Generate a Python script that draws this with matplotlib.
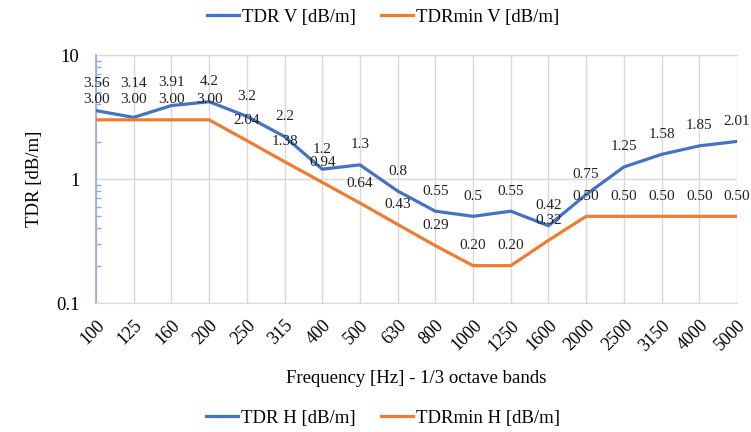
import matplotlib
matplotlib.use("Agg")
import matplotlib.pyplot as plt
from matplotlib.lines import Line2D
from matplotlib.ticker import LogLocator, FixedLocator, NullFormatter
import numpy as np

# ── data ──────────────────────────────────────────────────────────────────────
FREQS = ["100", "125", "160", "200", "250", "315", "400", "500", "630", "800",
         "1000", "1250", "1600", "2000", "2500", "3150", "4000", "5000"]
TDR_V = [3.56, 3.14, 3.91, 4.2, 3.2, 2.2, 1.2, 1.3, 0.8, 0.55,
         0.5, 0.55, 0.42, 0.75, 1.25, 1.58, 1.85, 2.01]
TDRMIN_V = [3.00, 3.00, 3.00, 3.00, 2.04, 1.38, 0.94, 0.64, 0.43, 0.29,
            0.20, 0.20, 0.32, 0.50, 0.50, 0.50, 0.50, 0.50]
TDR_V_TEXT = ["3.56", "3.14", "3.91", "4.2", "3.2", "2.2", "1.2", "1.3", "0.8", "0.55",
              "0.5", "0.55", "0.42", "0.75", "1.25", "1.58", "1.85", "2.01"]
TDRMIN_V_TEXT = [f"{v:.2f}" for v in TDRMIN_V]

BLUE = "#4472C4"
ORANGE = "#ED7D31"
GRID = "#D9D9D9"
AXIS_BLUE = "#8FAADC"

plt.rcParams["font.family"] = ["Liberation Serif", "DejaVu Serif"]
plt.rcParams["font.size"] = 13

fig = plt.figure(figsize=(7.51, 4.32), dpi=100)
ax = fig.add_axes([96 / 751, 1 - 303 / 432, (737 - 96) / 751, (303 - 55) / 432])

x = np.arange(len(FREQS))
ax.plot(x, TDR_V, color=BLUE, lw=2.3, solid_joinstyle="round", zorder=3)
ax.plot(x, TDRMIN_V, color=ORANGE, lw=2.3, solid_joinstyle="round", zorder=3)

ax.set_yscale("log")
ax.set_ylim(0.1, 10)
ax.set_xlim(0, len(FREQS) - 1)

# ── data labels (about 20 px above each point; first blue ones lifted in the original)
px = 72 / fig.dpi
extra_lift_v = {0: 7, 1: 14, 2: 3}
for i, (v, t) in enumerate(zip(TDR_V, TDR_V_TEXT)):
    ax.annotate(t, (x[i], v), xytext=(0, (20 + extra_lift_v.get(i, 0)) * px),
                textcoords="offset points", ha="center", va="center",
                fontsize=11, color="#222222", annotation_clip=False, zorder=4)
for i, (v, t) in enumerate(zip(TDRMIN_V, TDRMIN_V_TEXT)):
    ax.annotate(t, (x[i], v), xytext=(0, 20 * px),
                textcoords="offset points", ha="center", va="center",
                fontsize=11, color="#222222", annotation_clip=False, zorder=4)

# ── axes styling
ax.xaxis.set_major_locator(FixedLocator(x))
ax.set_xticklabels(FREQS, rotation=45, ha="right", va="top", rotation_mode="anchor")
ax.tick_params(axis="x", length=0, pad=10, labelsize=13)

ax.yaxis.set_major_locator(FixedLocator([0.1, 1, 10]))
ax.set_yticklabels(["0.1", "1", "10"])
ax.yaxis.set_minor_locator(LogLocator(base=10, subs=np.arange(2, 10)))
ax.yaxis.set_minor_formatter(NullFormatter())
ax.tick_params(axis="y", which="major", length=0, pad=12, labelsize=13.5)
ax.tick_params(axis="y", which="minor", direction="in", length=3.5, width=1, color=AXIS_BLUE)

ax.grid(True, which="major", color=GRID, lw=1)
ax.set_axisbelow(True)
for s in ["top", "right"]:
    ax.spines[s].set_visible(False)
ax.spines["bottom"].set_color(GRID)
ax.spines["left"].set_color(AXIS_BLUE)
ax.spines["left"].set_linewidth(1.2)
ax.axhline(10, color=GRID, lw=1, zorder=1, clip_on=False)

ax.set_xlabel("Frequency [Hz] - 1/3 octave bands", fontsize=13.5, labelpad=11)
ax.set_ylabel("TDR [dB/m]", fontsize=13.5, labelpad=9)

# ── legends (top: V series, bottom: H series)
leg_kw = dict(ncol=2, frameon=False, fontsize=13.5, handlelength=1.7,
              handletextpad=0.15, columnspacing=1.35, loc="center")
top_handles = [Line2D([], [], color=BLUE, lw=2.3), Line2D([], [], color=ORANGE, lw=2.3)]
fig.legend(top_handles, ["TDR V [dB/m]", "TDRmin V [dB/m]"],
           bbox_to_anchor=(383 / 751, 1 - 17 / 432), **leg_kw)
bot_handles = [Line2D([], [], color=BLUE, lw=2.3), Line2D([], [], color=ORANGE, lw=2.3)]
fig.legend(bot_handles, ["TDR H [dB/m]", "TDRmin H [dB/m]"],
           bbox_to_anchor=(383 / 751, 1 - 418 / 432), **leg_kw)

fig.savefig("out.png", dpi=100)
